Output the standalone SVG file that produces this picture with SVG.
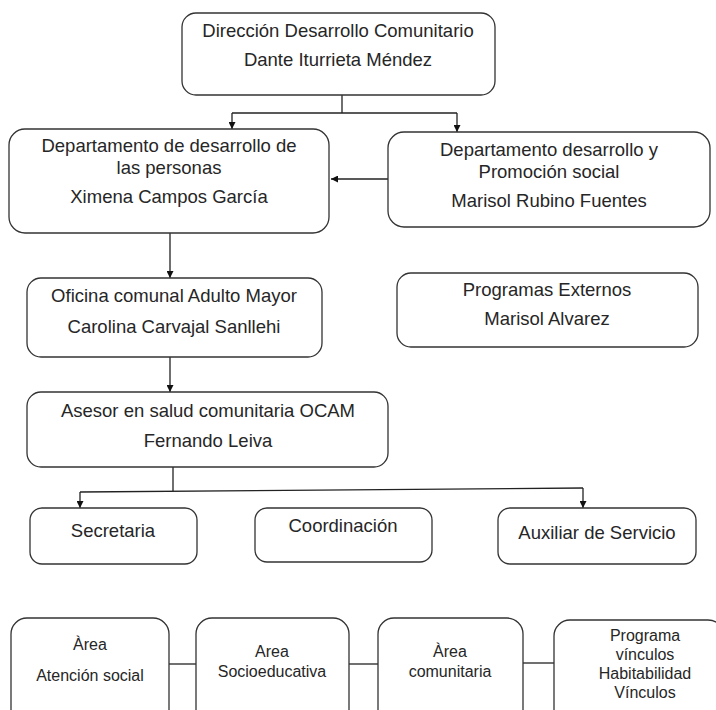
<svg xmlns="http://www.w3.org/2000/svg" width="716" height="710" viewBox="0 0 716 710">
<style>
.box{fill:#fff;stroke:#333;stroke-width:1.3}
.t{font-family:"Liberation Sans",Arial,sans-serif;font-size:18.5px;fill:#262626;text-anchor:middle}
.s{font-family:"Liberation Sans",Arial,sans-serif;font-size:16px;fill:#262626;text-anchor:middle}
.c{fill:none;stroke:#222;stroke-width:1.3}
</style>
<defs>
<marker id="ah" viewBox="0 0 10 10" refX="10" refY="5" markerWidth="7" markerHeight="7" markerUnits="userSpaceOnUse" orient="auto">
<path d="M0,0 L10,5 L0,10 Z" fill="#111"/>
</marker>
</defs>
<rect width="716" height="710" fill="#fff"/>
<g id="connectors">
<path class="c" d="M342,95 V113"/>
<path class="c" d="M232,113 H457"/>
<path class="c" d="M232,113 V129" marker-end="url(#ah)"/>
<path class="c" d="M457,113 V132" marker-end="url(#ah)"/>
<path class="c" d="M388,179 H331" marker-end="url(#ah)"/>
<path class="c" d="M170,233 V278" marker-end="url(#ah)"/>
<path class="c" d="M170,357 V392" marker-end="url(#ah)"/>
<path class="c" d="M173,467 V491"/>
<path class="c" d="M80,492 L583,488"/>
<path class="c" d="M80,492 V508" marker-end="url(#ah)"/>
<path class="c" d="M583,488 V508" marker-end="url(#ah)"/>
<path class="c" d="M169,664 H196"/>
<path class="c" d="M349,664 H378"/>
<path class="c" d="M523,663 H554"/>
</g>
<g id="direccion">
<rect class="box" x="182" y="13" width="313" height="82" rx="14"/>
<text class="t" x="338" y="37">Dirección Desarrollo Comunitario</text>
<text class="t" x="338" y="66">Dante Iturrieta Méndez</text>
</g>
<g id="dep-personas">
<rect class="box" x="9" y="129" width="320" height="104" rx="16"/>
<text class="t" x="169" y="152">Departamento de desarrollo de</text>
<text class="t" x="169" y="174">las personas</text>
<text class="t" x="169" y="203">Ximena Campos García</text>
</g>
<g id="dep-promocion">
<rect class="box" x="388" y="132" width="322" height="95" rx="16"/>
<text class="t" x="549" y="156">Departamento desarrollo y</text>
<text class="t" x="549" y="178">Promoción social</text>
<text class="t" x="549" y="207">Marisol Rubino Fuentes</text>
</g>
<g id="oficina">
<rect class="box" x="27" y="278" width="295" height="79" rx="14"/>
<text class="t" x="174" y="302">Oficina comunal Adulto Mayor</text>
<text class="t" x="174" y="333">Carolina Carvajal Sanllehi</text>
</g>
<g id="programas">
<rect class="box" x="397" y="273" width="301" height="74" rx="14"/>
<text class="t" x="547" y="296">Programas Externos</text>
<text class="t" x="547" y="325">Marisol Alvarez</text>
</g>
<g id="asesor">
<rect class="box" x="27" y="392" width="361" height="75" rx="14"/>
<text class="t" x="208" y="417">Asesor en salud comunitaria OCAM</text>
<text class="t" x="208" y="447">Fernando Leiva</text>
</g>
<g id="secretaria">
<rect class="box" x="30" y="508" width="167" height="56" rx="12"/>
<text class="t" x="113" y="537">Secretaria</text>
</g>
<g id="coordinacion">
<rect class="box" x="255" y="508" width="177" height="54" rx="12"/>
<text class="t" x="343" y="532">Coordinación</text>
</g>
<g id="auxiliar">
<rect class="box" x="498" y="508" width="198" height="56" rx="12"/>
<text class="t" x="597" y="539">Auxiliar de Servicio</text>
</g>
<g id="area-atencion">
<rect class="box" x="11" y="618" width="158" height="120" rx="16"/>
<text class="s" x="90" y="650">Àrea</text>
<text class="s" x="90" y="681">Atención social</text>
</g>
<g id="area-socioeducativa">
<rect class="box" x="196" y="618" width="153" height="120" rx="16"/>
<text class="s" x="272" y="657">Area</text>
<text class="s" x="272" y="677">Socioeducativa</text>
</g>
<g id="area-comunitaria">
<rect class="box" x="378" y="618" width="145" height="120" rx="16"/>
<text class="s" x="450" y="657">Àrea</text>
<text class="s" x="450" y="677">comunitaria</text>
</g>
<g id="programa-vinculos">
<rect class="box" x="554" y="620" width="170" height="120" rx="16"/>
<text class="s" x="645" y="641">Programa</text>
<text class="s" x="645" y="660">vínculos</text>
<text class="s" x="645" y="679">Habitabilidad</text>
<text class="s" x="645" y="698">Vínculos</text>
</g>
</svg>
